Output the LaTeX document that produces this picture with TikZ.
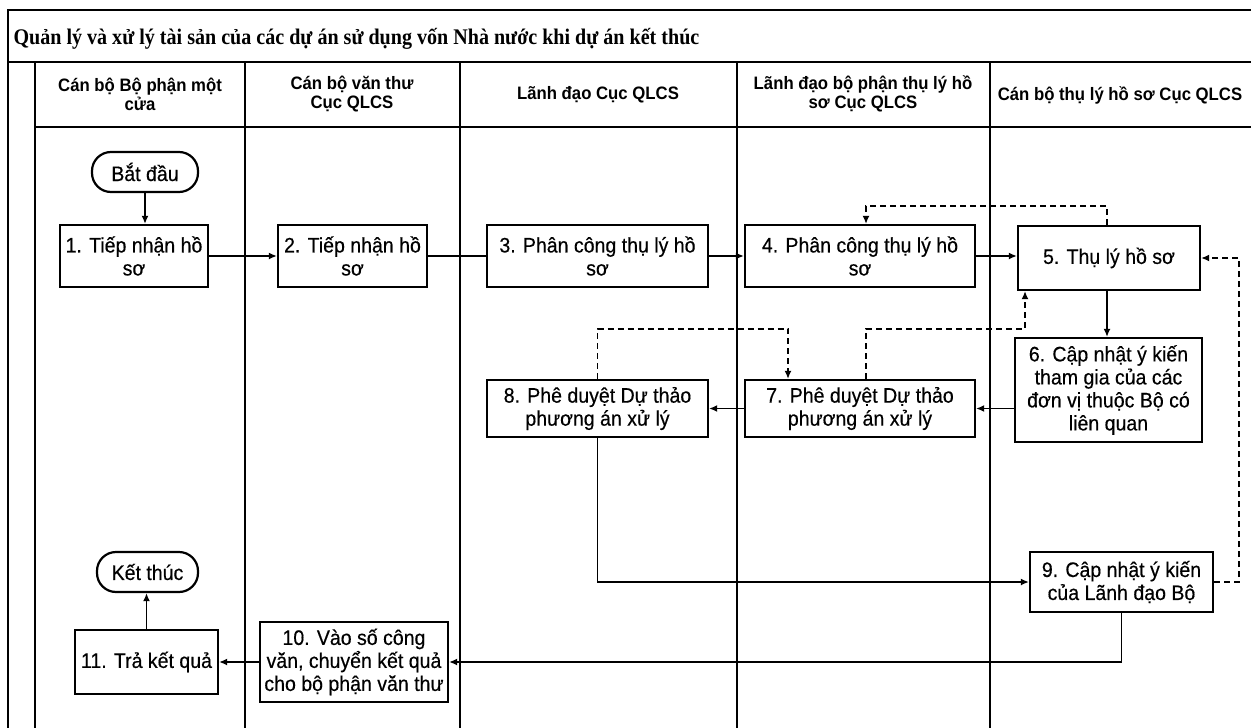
\documentclass[tikz,border=0pt]{standalone}
\usepackage{fontspec}
\setmainfont{Liberation Sans}
\newfontfamily\boxfont{Liberation Sans}[FakeStretch=0.93,FakeBold=0.4]
\newfontfamily\headfont{Liberation Sans Bold}[FakeStretch=0.93]
\newfontfamily\titlefont{Liberation Serif Bold}[FakeStretch=0.9]
\usetikzlibrary{arrows.meta}

\tikzset{
  frame/.style={line width=2pt},
  proc/.style={draw, line width=2.2pt, fill=white, align=center,
    font=\boxfont\fontsize{21}{23}\selectfont, inner sep=2pt},
  term/.style={proc, rounded corners=19pt},
  head/.style={align=center, font=\headfont\fontsize{18}{19}\selectfont},
  flow/.style={line width=1.8pt, -{Latex[length=8pt,width=7pt]}},
  plain/.style={line width=1.8pt},
  dline/.style={line width=1.8pt, dash pattern=on 6pt off 4pt, -{Latex[length=8pt,width=7pt]}}
}

\begin{document}
\begin{tikzpicture}[x=1pt,y=-1pt]
\useasboundingbox (0,0) rectangle (1251,728);

% pool frame and swimlanes
\draw[frame] (1251,10) -- (8,10) -- (8,728);
\draw[frame] (8,62) -- (1251,62);
\draw[frame] (35,62) -- (35,728);
\draw[frame] (35,127) -- (1251,127);
\foreach \lx in {245,460,737,990}
  \draw[frame] (\lx,62) -- (\lx,728);

% title and lane headers
\node[anchor=west, font=\titlefont\fontsize{22.3}{24}\selectfont] (title) at (10,39)
  {Quản lý và xử lý tài sản của các dự án sử dụng vốn Nhà nước khi dự án kết thúc};
\node[head] (h1) at (140,94) {Cán bộ Bộ phận một\\cửa};
\node[head] (h2) at (352,94) {Cán bộ văn thư\\Cục QLCS};
\node[head] (h3) at (598,95) {Lãnh đạo Cục QLCS};
\node[head] (h4) at (863,94) {Lãnh đạo bộ phận thụ lý hồ\\sơ Cục QLCS};
\node[head] (h5) at (1120,95) {Cán bộ thụ lý hồ sơ Cục QLCS};

% process steps
\node[term, minimum width=106pt, minimum height=40pt] (start) at (145,172) {Bắt đầu};
\node[proc, minimum width=148pt, minimum height=62pt] (b1) at (134,256) {1. Tiếp nhận hồ\\sơ};
\node[proc, minimum width=149pt, minimum height=62pt] (b2) at (352.5,256) {2. Tiếp nhận hồ\\sơ};
\node[proc, minimum width=221pt, minimum height=62pt] (b3) at (597.5,256) {3. Phân công thụ lý hồ\\sơ};
\node[proc, minimum width=230pt, minimum height=62pt] (b4) at (860,256) {4. Phân công thụ lý hồ\\sơ};
\node[proc, minimum width=182pt, minimum height=64pt] (b5) at (1109,258) {5. Thụ lý hồ sơ};
\node[proc, minimum width=187pt, minimum height=104pt] (b6) at (1108.5,390)
  {6. Cập nhật ý kiến\\tham gia của các\\đơn vị thuộc Bộ có\\liên quan};
\node[proc, minimum width=230pt, minimum height=57pt] (b7) at (860,408.5) {7. Phê duyệt Dự thảo\\phương án xử lý};
\node[proc, minimum width=221pt, minimum height=57pt] (b8) at (597.5,408.5) {8. Phê duyệt Dự thảo\\phương án xử lý};
\node[proc, minimum width=183pt, minimum height=60pt] (b9) at (1121.5,582) {9. Cập nhật ý kiến\\của Lãnh đạo Bộ};
\node[proc, minimum width=188pt, minimum height=80pt] (b10) at (354,662)
  {10. Vào số công\\văn, chuyển kết quả\\cho bộ phận văn thư};
\node[proc, minimum width=143pt, minimum height=64pt] (b11) at (146.5,662) {11. Trả kết quả};
\node[term, minimum width=101pt, minimum height=40pt] (end) at (147.5,572) {Kết thúc};

% main flow
\draw[flow] (start.south) -- (start.south |- b1.north);
\draw[flow] (b1) -- (b2);
\draw[plain] (b2) -- (b3);
\draw[flow] (b3) -- (b4);
\draw[flow] (b4.east) -- (b4.east -| b5.west);
\draw[flow] ([xshift=-2pt]b5.south) -- ([xshift=-2pt]b5.south |- b6.north);
\draw[flow] (b6.west |- b7.east) -- (b7.east);
\draw[flow] (b7) -- (b8);
\draw[flow] (b8.south) |- (b9.west);
\draw[flow] (b9.south) |- (b10.east);
\draw[flow] (b10) -- (b11);
\draw[flow] (b11.north) -- (b11.north |- end.south);

% feedback loops
\draw[dline] ([xshift=-2pt]b5.north) -- ++(0,-19) -| ([xshift=6pt]b4.north);
\draw[dline] ([xshift=6pt]b7.north) -- ++(0,-50) -| ([xshift=-84pt]b5.south);
\draw[dline] (b8.north) -- ++(0,-50) -| ([xshift=-72pt]b7.north);
\draw[dline] (b9.east) -- ++(25,0) |- (b5.east);
\end{tikzpicture}
\end{document}
